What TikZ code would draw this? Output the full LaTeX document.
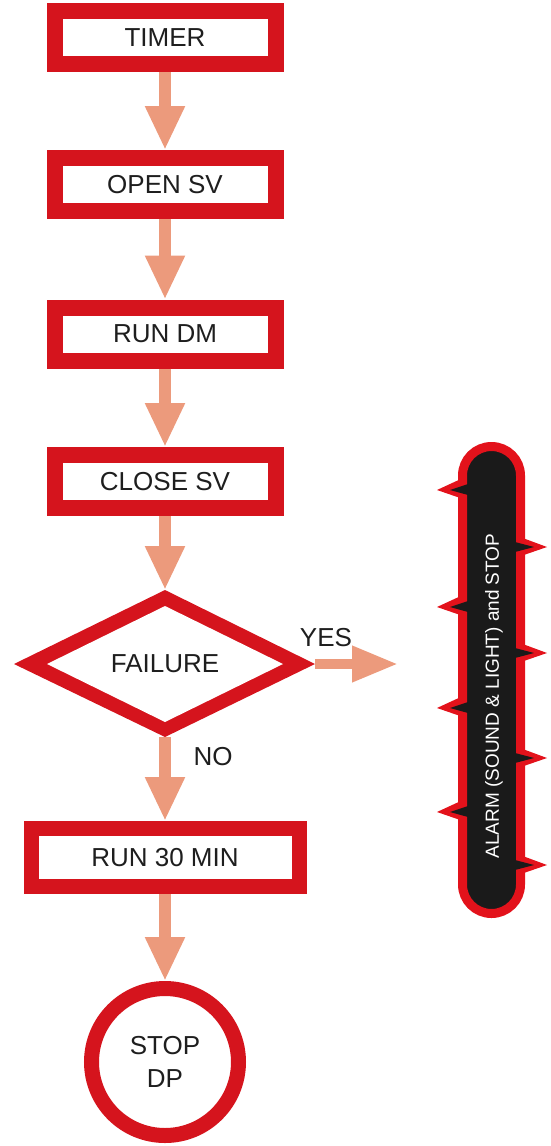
\documentclass[tikz,border=0pt]{standalone}
\usepackage{fontspec}
\setmainfont{Liberation Sans}
\usetikzlibrary{arrows.meta,shapes.geometric}
\definecolor{boxred}{HTML}{D5141D}
\definecolor{alarmred}{HTML}{E3121B}
\definecolor{arrowc}{HTML}{EC9A7C}
\definecolor{txt}{HTML}{1E1E1E}
\definecolor{alarmbg}{HTML}{1A1A1A}
\begin{document}
\begin{tikzpicture}[x=1pt,y=-1pt,
  stepbox/.style={draw=boxred, line width=16pt, fill=white, inner sep=0pt,
    minimum width=221pt, minimum height=53pt,
    font=\fontsize{26}{31}\selectfont, text=txt},
  flow/.style={draw=arrowc, line width=12pt, -{Triangle[width=37pt,length=44pt]}},
  lbl/.style={font=\fontsize{26}{31}\selectfont, text=txt}]
\useasboundingbox (0,0) rectangle (550,1146);

% process boxes
\node[stepbox] (timer) at (165,37.5) {TIMER};
\node[stepbox] (open)  at (165,184.5) {OPEN SV};
\node[stepbox] (rundm) at (165,334) {RUN DM};
\node[stepbox] (close) at (165,481.5) {CLOSE SV};

% decision diamond
\coordinate (dtop) at (165,590);
\coordinate (dbot) at (165,737);
\coordinate (dleft) at (14,664);
\coordinate (dright) at (315,664);
\fill[boxred] (dtop) -- (dright) -- (dbot) -- (dleft) -- cycle;
\fill[white] (165,606) -- (283,664) -- (165,722) -- (47,664) -- cycle;
\node[lbl] (fail) at (165,664) {FAILURE};

\node[stepbox, line width=15pt, minimum width=268pt, minimum height=58pt] (r30) at (165,857.5) {RUN 30 MIN};

\node[circle, draw=boxred, line width=15pt, fill=white, minimum size=147pt,
  inner sep=0pt, align=center, font=\fontsize{26}{33}\selectfont, text=txt]
  (stop) at (165,1062) {STOP\\DP};

% connectors
\draw[flow] (timer.south) -- (open.north);
\draw[flow] (open.south) -- (rundm.north);
\draw[flow] (rundm.south) -- (close.north);
\draw[flow] (close.south) -- (dtop);
\draw[flow] (dbot) -- (r30.north);
\draw[flow] (r30.south) -- (stop.north);
\coordinate (yesend) at (398,664);
\draw[flow, line width=10pt, -{Triangle[width=34pt,length=46pt]}] (dright) -- (yesend);

\node[lbl] (yes) at (326,638) {YES};
\node[lbl] (no) at (213,757) {NO};

% alarm bar
\foreach \y in {490,607,708,812} {
  \fill[alarmred] (463,\y-12) -- (437,\y) -- (466,\y+10) -- cycle;
}
\foreach \y in {547,653,758,865} {
  \fill[alarmred] (520,\y-10) -- (547,\y) -- (518,\y+10) -- cycle;
}
\draw[draw=alarmred, line width=9pt, fill=alarmbg, rounded corners=29pt]
  (462.5,446.5) rectangle (520.5,913.5);
\foreach \y in {490,607,708,812} {
  \fill[alarmbg] (468,\y-6) -- (450,\y) -- (468,\y+5) -- cycle;
}
\foreach \y in {547,653,758,865} {
  \fill[alarmbg] (515,\y-5) -- (534,\y) -- (515,\y+5) -- cycle;
}
\node[rotate=90, text=white, font=\fontsize{19}{23}\selectfont] (alarm) at (494,696) {ALARM (SOUND \& LIGHT) and STOP};
\end{tikzpicture}
\end{document}
